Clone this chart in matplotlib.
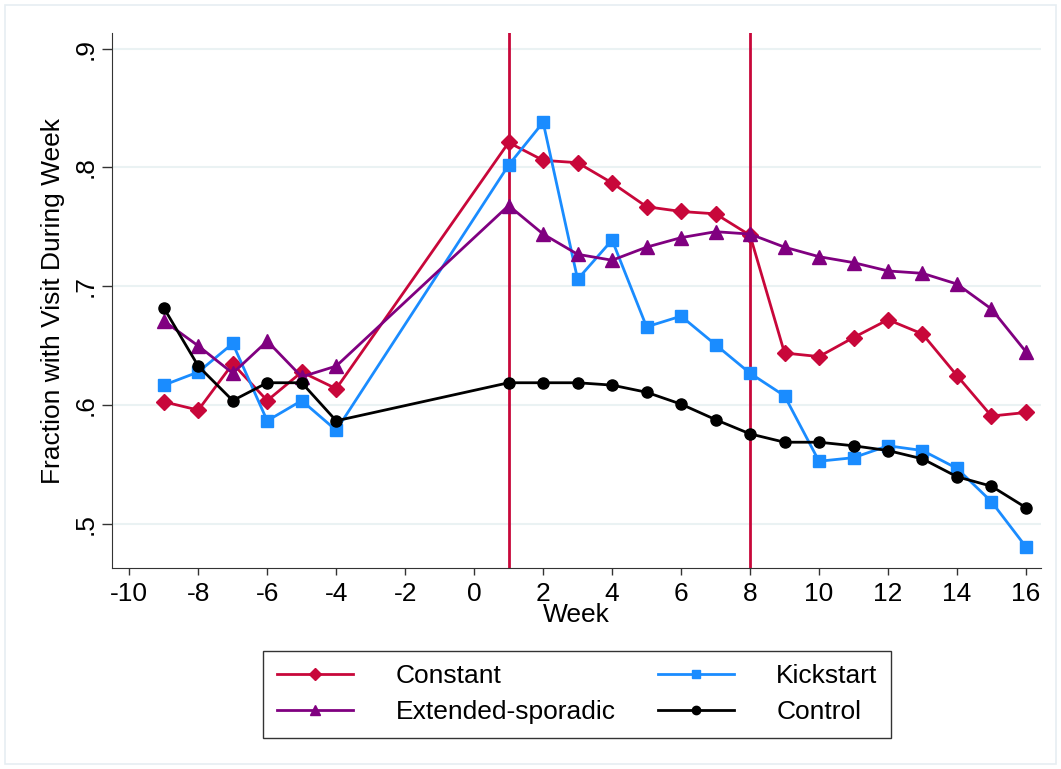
import numpy as np
import matplotlib.pyplot as plt
from matplotlib.patches import Rectangle

plt.rcParams['font.family'] = ['Liberation Sans', 'DejaVu Sans']
plt.rcParams['axes.unicode_minus'] = False

# Data
weeks = [-9, -8, -7, -6, -5, -4, 1, 2, 3, 4, 5, 6, 7, 8, 9, 10, 11, 12, 13, 14, 15, 16]
constant = [0.603, 0.596, 0.635, 0.604, 0.628, 0.614,
            0.821, 0.806, 0.804, 0.787, 0.767, 0.763, 0.761, 0.743,
            0.644, 0.641, 0.657, 0.672, 0.660, 0.625, 0.591, 0.594]
kickstart = [0.617, 0.628, 0.652, 0.587, 0.604, 0.579,
             0.802, 0.838, 0.706, 0.739, 0.666, 0.675, 0.651, 0.627,
             0.608, 0.553, 0.556, 0.566, 0.562, 0.547, 0.519, 0.481]
extended = [0.671, 0.650, 0.627, 0.654, 0.624, 0.633,
            0.768, 0.744, 0.727, 0.722, 0.733, 0.741, 0.746, 0.744,
            0.733, 0.725, 0.720, 0.713, 0.711, 0.702, 0.681, 0.645]
control = [0.682, 0.633, 0.604, 0.619, 0.619, 0.587,
           0.619, 0.619, 0.619, 0.617, 0.611, 0.601, 0.588, 0.576,
           0.569, 0.569, 0.566, 0.562, 0.555, 0.540, 0.532, 0.514]
vlines = [1, 8]
xticks = list(range(-10, 17, 2))
yticks = [0.5, 0.6, 0.7, 0.8, 0.9]
ytick_labels = ['.5', '.6', '.7', '.8', '.9']

red = '#C8073A'
blue = '#1A8CFF'
purple = '#800080'
fs = 19

fig = plt.figure(figsize=(10.61, 7.69), dpi=100)
ax = fig.add_axes([0.1056, 0.261, 0.876, 0.696])

# outer frame like Stata graph region
fig.patches.append(Rectangle((0.005, 0.006), 0.99, 0.988, transform=fig.transFigure,
                             fill=False, edgecolor='#E6EEF2', linewidth=1.2))

for yv in yticks:
    ax.axhline(yv, color='#EAF2F3', linewidth=1.5, zorder=0)
for xv in vlines:
    ax.axvline(xv, color=red, linewidth=2, zorder=1)

l1, = ax.plot(weeks, constant, color=red, marker='D', markersize=8, linewidth=2, label='Constant', zorder=3)
l3, = ax.plot(weeks, kickstart, color=blue, marker='s', markersize=8, linewidth=2, label='Kickstart', zorder=3)
l2, = ax.plot(weeks, extended, color=purple, marker='^', markersize=10, linewidth=2, label='Extended-sporadic', zorder=3)
l4, = ax.plot(weeks, control, color='black', marker='o', markersize=8, linewidth=2, label='Control', zorder=4)

ax.set_xlim(-10.5, 16.45)
ax.set_ylim(0.463, 0.913)
ax.set_xticks(xticks)
ax.set_yticks(yticks)
ax.set_yticklabels(ytick_labels, rotation=90, va='center')
ax.tick_params(axis='both', labelsize=fs, length=7, width=1, direction='out', color='#333333')
ax.tick_params(axis='x', length=5, pad=5)
for s in ['left', 'bottom']:
    ax.spines[s].set_color('#333333')
ax.spines['top'].set_visible(False)
ax.spines['right'].set_visible(False)
ax.set_xlabel('Week', fontsize=fs, labelpad=-2)
ax.set_ylabel('Fraction with Visit During Week', fontsize=fs, labelpad=6)

leg = fig.legend(handles=[l1, l2, l3, l4], ncol=2, loc='center', bbox_to_anchor=(0.544, 0.097),
                 fontsize=fs, frameon=True, fancybox=False, edgecolor='black',
                 handlelength=2.9, columnspacing=1.6, handletextpad=1.6, borderpad=0.5,
                 labelspacing=0.45, markerscale=0.75, borderaxespad=0)
leg.get_frame().set_linewidth(1)

fig.savefig('out.png', dpi=100)
